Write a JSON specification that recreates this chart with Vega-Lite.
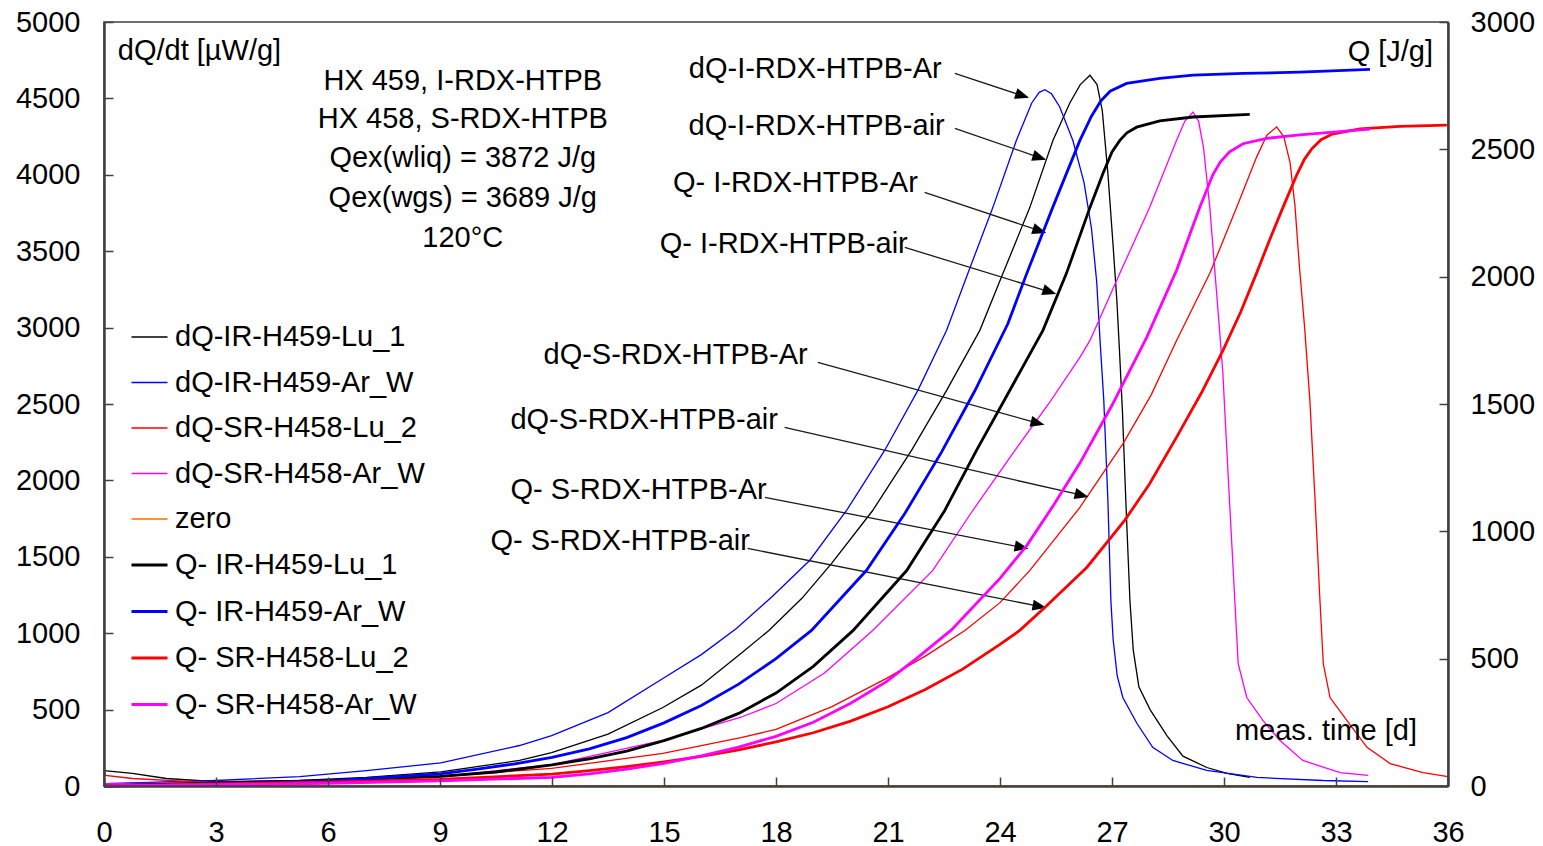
{
  "$schema": "https://vega.github.io/schema/vega-lite/v6.json",
  "width": 1344,
  "height": 764,
  "autosize": {"type": "none"},
  "padding": {"left": 104, "top": 22, "right": 95, "bottom": 60},
  "background": "#ffffff",
  "config": {
    "font": "Liberation Sans",
    "view": {"stroke": "#404040", "strokeWidth": 1.5},
    "axis": {"grid": false, "domainColor": "#404040", "domainWidth": 2.5, "tickColor": "#404040", "tickWidth": 1.5, "tickSize": -9, "labelFont": "Liberation Sans", "labelFontSize": 29, "labelColor": "#000000", "zindex": 1, "format": "d"}
  },
  "datasets": {
    "dq": [
      {"series": "zero", "t": 0, "v": 0}, {"series": "zero", "t": 36, "v": 0},
      {"series": "dQ-IR-H459-Lu_1", "t": 0, "v": 101}, {"series": "dQ-IR-H459-Lu_1", "t": 0.76, "v": 82}, {"series": "dQ-IR-H459-Lu_1", "t": 1.67, "v": 49}, {"series": "dQ-IR-H459-Lu_1", "t": 3.01, "v": 29}, {"series": "dQ-IR-H459-Lu_1", "t": 5.24, "v": 36}, {"series": "dQ-IR-H459-Lu_1", "t": 7.03, "v": 56}, {"series": "dQ-IR-H459-Lu_1", "t": 9.02, "v": 92}, {"series": "dQ-IR-H459-Lu_1", "t": 11.13, "v": 167}, {"series": "dQ-IR-H459-Lu_1", "t": 11.99, "v": 219}, {"series": "dQ-IR-H459-Lu_1", "t": 13.5, "v": 340}, {"series": "dQ-IR-H459-Lu_1", "t": 14.97, "v": 514}, {"series": "dQ-IR-H459-Lu_1", "t": 16.0, "v": 660}, {"series": "dQ-IR-H459-Lu_1", "t": 17.06, "v": 867}, {"series": "dQ-IR-H459-Lu_1", "t": 17.81, "v": 1018}, {"series": "dQ-IR-H459-Lu_1", "t": 18.7, "v": 1230}, {"series": "dQ-IR-H459-Lu_1", "t": 19.49, "v": 1457}, {"series": "dQ-IR-H459-Lu_1", "t": 20.59, "v": 1803}, {"series": "dQ-IR-H459-Lu_1", "t": 21.63, "v": 2196}, {"series": "dQ-IR-H459-Lu_1", "t": 22.57, "v": 2589}, {"series": "dQ-IR-H459-Lu_1", "t": 23.46, "v": 2982}, {"series": "dQ-IR-H459-Lu_1", "t": 24.08, "v": 3355}, {"series": "dQ-IR-H459-Lu_1", "t": 24.8, "v": 3787}, {"series": "dQ-IR-H459-Lu_1", "t": 25.42, "v": 4226}, {"series": "dQ-IR-H459-Lu_1", "t": 25.87, "v": 4470}, {"series": "dQ-IR-H459-Lu_1", "t": 26.15, "v": 4590}, {"series": "dQ-IR-H459-Lu_1", "t": 26.41, "v": 4651}, {"series": "dQ-IR-H459-Lu_1", "t": 26.6, "v": 4590}, {"series": "dQ-IR-H459-Lu_1", "t": 26.74, "v": 4420}, {"series": "dQ-IR-H459-Lu_1", "t": 26.89, "v": 4009}, {"series": "dQ-IR-H459-Lu_1", "t": 27.02, "v": 3570}, {"series": "dQ-IR-H459-Lu_1", "t": 27.13, "v": 3178}, {"series": "dQ-IR-H459-Lu_1", "t": 27.2, "v": 2850}, {"series": "dQ-IR-H459-Lu_1", "t": 27.28, "v": 2450}, {"series": "dQ-IR-H459-Lu_1", "t": 27.37, "v": 1869}, {"series": "dQ-IR-H459-Lu_1", "t": 27.48, "v": 1214}, {"series": "dQ-IR-H459-Lu_1", "t": 27.57, "v": 887}, {"series": "dQ-IR-H459-Lu_1", "t": 27.72, "v": 650}, {"series": "dQ-IR-H459-Lu_1", "t": 28.02, "v": 500}, {"series": "dQ-IR-H459-Lu_1", "t": 28.47, "v": 330}, {"series": "dQ-IR-H459-Lu_1", "t": 28.9, "v": 195}, {"series": "dQ-IR-H459-Lu_1", "t": 29.54, "v": 121}, {"series": "dQ-IR-H459-Lu_1", "t": 30.08, "v": 82}, {"series": "dQ-IR-H459-Lu_1", "t": 30.69, "v": 56},
      {"series": "dQ-IR-H459-Ar_W", "t": 0, "v": 16}, {"series": "dQ-IR-H459-Ar_W", "t": 3.01, "v": 36}, {"series": "dQ-IR-H459-Ar_W", "t": 5.24, "v": 62}, {"series": "dQ-IR-H459-Ar_W", "t": 7.03, "v": 101}, {"series": "dQ-IR-H459-Ar_W", "t": 9.02, "v": 151}, {"series": "dQ-IR-H459-Ar_W", "t": 11.13, "v": 265}, {"series": "dQ-IR-H459-Ar_W", "t": 11.99, "v": 330}, {"series": "dQ-IR-H459-Ar_W", "t": 13.5, "v": 480}, {"series": "dQ-IR-H459-Ar_W", "t": 14.97, "v": 704}, {"series": "dQ-IR-H459-Ar_W", "t": 16.0, "v": 860}, {"series": "dQ-IR-H459-Ar_W", "t": 16.94, "v": 1031}, {"series": "dQ-IR-H459-Ar_W", "t": 17.9, "v": 1240}, {"series": "dQ-IR-H459-Ar_W", "t": 18.9, "v": 1476}, {"series": "dQ-IR-H459-Ar_W", "t": 19.89, "v": 1803}, {"series": "dQ-IR-H459-Ar_W", "t": 20.91, "v": 2196}, {"series": "dQ-IR-H459-Ar_W", "t": 21.8, "v": 2589}, {"series": "dQ-IR-H459-Ar_W", "t": 22.57, "v": 2982}, {"series": "dQ-IR-H459-Ar_W", "t": 23.1, "v": 3330}, {"series": "dQ-IR-H459-Ar_W", "t": 23.81, "v": 3787}, {"series": "dQ-IR-H459-Ar_W", "t": 24.44, "v": 4226}, {"series": "dQ-IR-H459-Ar_W", "t": 24.85, "v": 4470}, {"series": "dQ-IR-H459-Ar_W", "t": 25.05, "v": 4540}, {"series": "dQ-IR-H459-Ar_W", "t": 25.2, "v": 4557}, {"series": "dQ-IR-H459-Ar_W", "t": 25.38, "v": 4530}, {"series": "dQ-IR-H459-Ar_W", "t": 25.6, "v": 4444}, {"series": "dQ-IR-H459-Ar_W", "t": 25.95, "v": 4226}, {"series": "dQ-IR-H459-Ar_W", "t": 26.25, "v": 3950}, {"series": "dQ-IR-H459-Ar_W", "t": 26.45, "v": 3650}, {"series": "dQ-IR-H459-Ar_W", "t": 26.59, "v": 3300}, {"series": "dQ-IR-H459-Ar_W", "t": 26.68, "v": 2916}, {"series": "dQ-IR-H459-Ar_W", "t": 26.78, "v": 2524}, {"series": "dQ-IR-H459-Ar_W", "t": 26.89, "v": 1869}, {"series": "dQ-IR-H459-Ar_W", "t": 26.97, "v": 1214}, {"series": "dQ-IR-H459-Ar_W", "t": 27.03, "v": 960}, {"series": "dQ-IR-H459-Ar_W", "t": 27.14, "v": 720}, {"series": "dQ-IR-H459-Ar_W", "t": 27.29, "v": 579}, {"series": "dQ-IR-H459-Ar_W", "t": 27.67, "v": 409}, {"series": "dQ-IR-H459-Ar_W", "t": 28.09, "v": 253}, {"series": "dQ-IR-H459-Ar_W", "t": 28.63, "v": 167}, {"series": "dQ-IR-H459-Ar_W", "t": 29.54, "v": 102}, {"series": "dQ-IR-H459-Ar_W", "t": 30.88, "v": 56}, {"series": "dQ-IR-H459-Ar_W", "t": 32.65, "v": 36}, {"series": "dQ-IR-H459-Ar_W", "t": 33.86, "v": 29},
      {"series": "dQ-SR-H458-Lu_2", "t": 0, "v": 121}, {"series": "dQ-SR-H458-Lu_2", "t": 0.04, "v": 69}, {"series": "dQ-SR-H458-Lu_2", "t": 0.76, "v": 49}, {"series": "dQ-SR-H458-Lu_2", "t": 2.56, "v": 25}, {"series": "dQ-SR-H458-Lu_2", "t": 6.12, "v": 36}, {"series": "dQ-SR-H458-Lu_2", "t": 9.02, "v": 62}, {"series": "dQ-SR-H458-Lu_2", "t": 11.13, "v": 101}, {"series": "dQ-SR-H458-Lu_2", "t": 11.99, "v": 115}, {"series": "dQ-SR-H458-Lu_2", "t": 14.97, "v": 213}, {"series": "dQ-SR-H458-Lu_2", "t": 17.06, "v": 317}, {"series": "dQ-SR-H458-Lu_2", "t": 18.0, "v": 370}, {"series": "dQ-SR-H458-Lu_2", "t": 19.5, "v": 520}, {"series": "dQ-SR-H458-Lu_2", "t": 20.96, "v": 704}, {"series": "dQ-SR-H458-Lu_2", "t": 22.0, "v": 850}, {"series": "dQ-SR-H458-Lu_2", "t": 23.06, "v": 1018}, {"series": "dQ-SR-H458-Lu_2", "t": 24.0, "v": 1200}, {"series": "dQ-SR-H458-Lu_2", "t": 24.8, "v": 1411}, {"series": "dQ-SR-H458-Lu_2", "t": 26.14, "v": 1823}, {"series": "dQ-SR-H458-Lu_2", "t": 27.3, "v": 2242}, {"series": "dQ-SR-H458-Lu_2", "t": 28.05, "v": 2560}, {"series": "dQ-SR-H458-Lu_2", "t": 28.73, "v": 2916}, {"series": "dQ-SR-H458-Lu_2", "t": 29.62, "v": 3355}, {"series": "dQ-SR-H458-Lu_2", "t": 30.34, "v": 3787}, {"series": "dQ-SR-H458-Lu_2", "t": 30.87, "v": 4114}, {"series": "dQ-SR-H458-Lu_2", "t": 31.15, "v": 4260}, {"series": "dQ-SR-H458-Lu_2", "t": 31.41, "v": 4313}, {"series": "dQ-SR-H458-Lu_2", "t": 31.6, "v": 4250}, {"series": "dQ-SR-H458-Lu_2", "t": 31.77, "v": 4080}, {"series": "dQ-SR-H458-Lu_2", "t": 31.9, "v": 3800}, {"series": "dQ-SR-H458-Lu_2", "t": 32.02, "v": 3400}, {"series": "dQ-SR-H458-Lu_2", "t": 32.16, "v": 3000}, {"series": "dQ-SR-H458-Lu_2", "t": 32.3, "v": 2524}, {"series": "dQ-SR-H458-Lu_2", "t": 32.44, "v": 1869}, {"series": "dQ-SR-H458-Lu_2", "t": 32.57, "v": 1214}, {"series": "dQ-SR-H458-Lu_2", "t": 32.66, "v": 800}, {"series": "dQ-SR-H458-Lu_2", "t": 32.84, "v": 579}, {"series": "dQ-SR-H458-Lu_2", "t": 33.29, "v": 429}, {"series": "dQ-SR-H458-Lu_2", "t": 33.83, "v": 253}, {"series": "dQ-SR-H458-Lu_2", "t": 34.45, "v": 147}, {"series": "dQ-SR-H458-Lu_2", "t": 35.33, "v": 88}, {"series": "dQ-SR-H458-Lu_2", "t": 36.0, "v": 62},
      {"series": "dQ-SR-H458-Ar_W", "t": 0, "v": 16}, {"series": "dQ-SR-H458-Ar_W", "t": 3.01, "v": 20}, {"series": "dQ-SR-H458-Ar_W", "t": 6.04, "v": 33}, {"series": "dQ-SR-H458-Ar_W", "t": 9.02, "v": 60}, {"series": "dQ-SR-H458-Ar_W", "t": 12.0, "v": 140}, {"series": "dQ-SR-H458-Ar_W", "t": 15.0, "v": 300}, {"series": "dQ-SR-H458-Ar_W", "t": 17.06, "v": 450}, {"series": "dQ-SR-H458-Ar_W", "t": 18.0, "v": 540}, {"series": "dQ-SR-H458-Ar_W", "t": 19.3, "v": 740}, {"series": "dQ-SR-H458-Ar_W", "t": 20.59, "v": 1018}, {"series": "dQ-SR-H458-Ar_W", "t": 22.2, "v": 1411}, {"series": "dQ-SR-H458-Ar_W", "t": 23.27, "v": 1803}, {"series": "dQ-SR-H458-Ar_W", "t": 24.4, "v": 2196}, {"series": "dQ-SR-H458-Ar_W", "t": 25.3, "v": 2500}, {"series": "dQ-SR-H458-Ar_W", "t": 26.14, "v": 2805}, {"series": "dQ-SR-H458-Ar_W", "t": 26.41, "v": 2916}, {"series": "dQ-SR-H458-Ar_W", "t": 27.21, "v": 3355}, {"series": "dQ-SR-H458-Ar_W", "t": 28.01, "v": 3787}, {"series": "dQ-SR-H458-Ar_W", "t": 28.73, "v": 4226}, {"series": "dQ-SR-H458-Ar_W", "t": 28.95, "v": 4350}, {"series": "dQ-SR-H458-Ar_W", "t": 29.17, "v": 4411}, {"series": "dQ-SR-H458-Ar_W", "t": 29.32, "v": 4350}, {"series": "dQ-SR-H458-Ar_W", "t": 29.45, "v": 4180}, {"series": "dQ-SR-H458-Ar_W", "t": 29.62, "v": 3787}, {"series": "dQ-SR-H458-Ar_W", "t": 29.76, "v": 3355}, {"series": "dQ-SR-H458-Ar_W", "t": 29.86, "v": 3050}, {"series": "dQ-SR-H458-Ar_W", "t": 29.97, "v": 2700}, {"series": "dQ-SR-H458-Ar_W", "t": 30.1, "v": 2085}, {"series": "dQ-SR-H458-Ar_W", "t": 30.29, "v": 1214}, {"series": "dQ-SR-H458-Ar_W", "t": 30.38, "v": 800}, {"series": "dQ-SR-H458-Ar_W", "t": 30.61, "v": 579}, {"series": "dQ-SR-H458-Ar_W", "t": 31.04, "v": 429}, {"series": "dQ-SR-H458-Ar_W", "t": 31.5, "v": 298}, {"series": "dQ-SR-H458-Ar_W", "t": 32.11, "v": 167}, {"series": "dQ-SR-H458-Ar_W", "t": 33.11, "v": 88}, {"series": "dQ-SR-H458-Ar_W", "t": 33.86, "v": 69}
    ],
    "q": [
      {"series": "Q- IR-H459-Lu_1", "t": 0, "v": 0}, {"series": "Q- IR-H459-Lu_1", "t": 3, "v": 12}, {"series": "Q- IR-H459-Lu_1", "t": 6, "v": 21}, {"series": "Q- IR-H459-Lu_1", "t": 9, "v": 38}, {"series": "Q- IR-H459-Lu_1", "t": 10.5, "v": 55}, {"series": "Q- IR-H459-Lu_1", "t": 12, "v": 83}, {"series": "Q- IR-H459-Lu_1", "t": 13, "v": 107}, {"series": "Q- IR-H459-Lu_1", "t": 14, "v": 137}, {"series": "Q- IR-H459-Lu_1", "t": 15, "v": 178}, {"series": "Q- IR-H459-Lu_1", "t": 16, "v": 226}, {"series": "Q- IR-H459-Lu_1", "t": 17, "v": 285}, {"series": "Q- IR-H459-Lu_1", "t": 18, "v": 365}, {"series": "Q- IR-H459-Lu_1", "t": 19, "v": 470}, {"series": "Q- IR-H459-Lu_1", "t": 20.06, "v": 610}, {"series": "Q- IR-H459-Lu_1", "t": 21.5, "v": 846}, {"series": "Q- IR-H459-Lu_1", "t": 22.52, "v": 1082}, {"series": "Q- IR-H459-Lu_1", "t": 23.37, "v": 1318}, {"series": "Q- IR-H459-Lu_1", "t": 24.26, "v": 1553}, {"series": "Q- IR-H459-Lu_1", "t": 25.15, "v": 1789}, {"series": "Q- IR-H459-Lu_1", "t": 25.78, "v": 2013}, {"series": "Q- IR-H459-Lu_1", "t": 26.41, "v": 2272}, {"series": "Q- IR-H459-Lu_1", "t": 26.76, "v": 2406}, {"series": "Q- IR-H459-Lu_1", "t": 27.0, "v": 2490}, {"series": "Q- IR-H459-Lu_1", "t": 27.21, "v": 2535}, {"series": "Q- IR-H459-Lu_1", "t": 27.4, "v": 2565}, {"series": "Q- IR-H459-Lu_1", "t": 27.66, "v": 2587}, {"series": "Q- IR-H459-Lu_1", "t": 28.28, "v": 2612}, {"series": "Q- IR-H459-Lu_1", "t": 29.17, "v": 2627}, {"series": "Q- IR-H459-Lu_1", "t": 30.69, "v": 2637},
      {"series": "Q- IR-H459-Ar_W", "t": 0, "v": 0}, {"series": "Q- IR-H459-Ar_W", "t": 3, "v": 7}, {"series": "Q- IR-H459-Ar_W", "t": 6, "v": 20}, {"series": "Q- IR-H459-Ar_W", "t": 9, "v": 48}, {"series": "Q- IR-H459-Ar_W", "t": 10, "v": 66}, {"series": "Q- IR-H459-Ar_W", "t": 11, "v": 87}, {"series": "Q- IR-H459-Ar_W", "t": 12, "v": 112}, {"series": "Q- IR-H459-Ar_W", "t": 13, "v": 146}, {"series": "Q- IR-H459-Ar_W", "t": 14, "v": 190}, {"series": "Q- IR-H459-Ar_W", "t": 15, "v": 248}, {"series": "Q- IR-H459-Ar_W", "t": 16, "v": 316}, {"series": "Q- IR-H459-Ar_W", "t": 17, "v": 400}, {"series": "Q- IR-H459-Ar_W", "t": 18, "v": 500}, {"series": "Q- IR-H459-Ar_W", "t": 18.95, "v": 611}, {"series": "Q- IR-H459-Ar_W", "t": 20.42, "v": 846}, {"series": "Q- IR-H459-Ar_W", "t": 21.45, "v": 1070}, {"series": "Q- IR-H459-Ar_W", "t": 22.43, "v": 1310}, {"series": "Q- IR-H459-Ar_W", "t": 23.33, "v": 1553}, {"series": "Q- IR-H459-Ar_W", "t": 24.21, "v": 1815}, {"series": "Q- IR-H459-Ar_W", "t": 24.71, "v": 2010}, {"series": "Q- IR-H459-Ar_W", "t": 25.42, "v": 2275}, {"series": "Q- IR-H459-Ar_W", "t": 26.14, "v": 2535}, {"series": "Q- IR-H459-Ar_W", "t": 26.45, "v": 2630}, {"series": "Q- IR-H459-Ar_W", "t": 26.7, "v": 2690}, {"series": "Q- IR-H459-Ar_W", "t": 26.95, "v": 2728}, {"series": "Q- IR-H459-Ar_W", "t": 27.39, "v": 2759}, {"series": "Q- IR-H459-Ar_W", "t": 28.28, "v": 2779}, {"series": "Q- IR-H459-Ar_W", "t": 29.17, "v": 2791}, {"series": "Q- IR-H459-Ar_W", "t": 30.51, "v": 2798}, {"series": "Q- IR-H459-Ar_W", "t": 32.03, "v": 2803}, {"series": "Q- IR-H459-Ar_W", "t": 33.91, "v": 2814},
      {"series": "Q- SR-H458-Lu_2", "t": 0, "v": 0}, {"series": "Q- SR-H458-Lu_2", "t": 3, "v": 8}, {"series": "Q- SR-H458-Lu_2", "t": 6, "v": 15}, {"series": "Q- SR-H458-Lu_2", "t": 9, "v": 26}, {"series": "Q- SR-H458-Lu_2", "t": 12, "v": 47}, {"series": "Q- SR-H458-Lu_2", "t": 13, "v": 60}, {"series": "Q- SR-H458-Lu_2", "t": 14, "v": 76}, {"series": "Q- SR-H458-Lu_2", "t": 15, "v": 95}, {"series": "Q- SR-H458-Lu_2", "t": 16, "v": 116}, {"series": "Q- SR-H458-Lu_2", "t": 17, "v": 142}, {"series": "Q- SR-H458-Lu_2", "t": 18, "v": 173}, {"series": "Q- SR-H458-Lu_2", "t": 19, "v": 209}, {"series": "Q- SR-H458-Lu_2", "t": 20, "v": 255}, {"series": "Q- SR-H458-Lu_2", "t": 21, "v": 311}, {"series": "Q- SR-H458-Lu_2", "t": 22, "v": 379}, {"series": "Q- SR-H458-Lu_2", "t": 23, "v": 459}, {"series": "Q- SR-H458-Lu_2", "t": 24, "v": 556}, {"series": "Q- SR-H458-Lu_2", "t": 24.53, "v": 611}, {"series": "Q- SR-H458-Lu_2", "t": 25.2, "v": 701}, {"series": "Q- SR-H458-Lu_2", "t": 26.33, "v": 859}, {"series": "Q- SR-H458-Lu_2", "t": 27.34, "v": 1043}, {"series": "Q- SR-H458-Lu_2", "t": 28.0, "v": 1185}, {"series": "Q- SR-H458-Lu_2", "t": 28.75, "v": 1375}, {"series": "Q- SR-H458-Lu_2", "t": 29.4, "v": 1545}, {"series": "Q- SR-H458-Lu_2", "t": 29.97, "v": 1710}, {"series": "Q- SR-H458-Lu_2", "t": 30.45, "v": 1862}, {"series": "Q- SR-H458-Lu_2", "t": 30.87, "v": 2013}, {"series": "Q- SR-H458-Lu_2", "t": 31.25, "v": 2155}, {"series": "Q- SR-H458-Lu_2", "t": 31.58, "v": 2272}, {"series": "Q- SR-H458-Lu_2", "t": 31.95, "v": 2400}, {"series": "Q- SR-H458-Lu_2", "t": 32.15, "v": 2460}, {"series": "Q- SR-H458-Lu_2", "t": 32.35, "v": 2502}, {"series": "Q- SR-H458-Lu_2", "t": 32.6, "v": 2538}, {"series": "Q- SR-H458-Lu_2", "t": 32.9, "v": 2560}, {"series": "Q- SR-H458-Lu_2", "t": 33.64, "v": 2580}, {"series": "Q- SR-H458-Lu_2", "t": 34.71, "v": 2590}, {"series": "Q- SR-H458-Lu_2", "t": 35.97, "v": 2595},
      {"series": "Q- SR-H458-Ar_W", "t": 0, "v": 0}, {"series": "Q- SR-H458-Ar_W", "t": 3, "v": 5}, {"series": "Q- SR-H458-Ar_W", "t": 6, "v": 10}, {"series": "Q- SR-H458-Ar_W", "t": 9, "v": 20}, {"series": "Q- SR-H458-Ar_W", "t": 12, "v": 34}, {"series": "Q- SR-H458-Ar_W", "t": 13, "v": 48}, {"series": "Q- SR-H458-Ar_W", "t": 14, "v": 66}, {"series": "Q- SR-H458-Ar_W", "t": 15, "v": 89}, {"series": "Q- SR-H458-Ar_W", "t": 16, "v": 118}, {"series": "Q- SR-H458-Ar_W", "t": 17, "v": 153}, {"series": "Q- SR-H458-Ar_W", "t": 18, "v": 195}, {"series": "Q- SR-H458-Ar_W", "t": 19, "v": 250}, {"series": "Q- SR-H458-Ar_W", "t": 20, "v": 325}, {"series": "Q- SR-H458-Ar_W", "t": 20.96, "v": 410}, {"series": "Q- SR-H458-Ar_W", "t": 21.8, "v": 505}, {"series": "Q- SR-H458-Ar_W", "t": 22.7, "v": 613}, {"series": "Q- SR-H458-Ar_W", "t": 24.0, "v": 815}, {"series": "Q- SR-H458-Ar_W", "t": 24.72, "v": 945}, {"series": "Q- SR-H458-Ar_W", "t": 25.4, "v": 1095}, {"series": "Q- SR-H458-Ar_W", "t": 26.14, "v": 1268}, {"series": "Q- SR-H458-Ar_W", "t": 27.0, "v": 1495}, {"series": "Q- SR-H458-Ar_W", "t": 27.93, "v": 1762}, {"series": "Q- SR-H458-Ar_W", "t": 28.73, "v": 2025}, {"series": "Q- SR-H458-Ar_W", "t": 29.35, "v": 2272}, {"series": "Q- SR-H458-Ar_W", "t": 29.7, "v": 2400}, {"series": "Q- SR-H458-Ar_W", "t": 29.9, "v": 2450}, {"series": "Q- SR-H458-Ar_W", "t": 30.15, "v": 2490}, {"series": "Q- SR-H458-Ar_W", "t": 30.51, "v": 2522}, {"series": "Q- SR-H458-Ar_W", "t": 31.14, "v": 2543}, {"series": "Q- SR-H458-Ar_W", "t": 32.03, "v": 2557}, {"series": "Q- SR-H458-Ar_W", "t": 33.91, "v": 2579}
    ],
    "labelsLeft": [
      {"label": "dQ/dt [µW/g]", "t": 0.37, "v": 4808}
    ],
    "labelsCenter": [
      {"label": "HX 459, I-RDX-HTPB", "t": 9.61, "v": 4612},
      {"label": "HX 458, S-RDX-HTPB", "t": 9.61, "v": 4363},
      {"label": "Qex(wliq) = 3872 J/g", "t": 9.61, "v": 4108},
      {"label": "Qex(wgs) = 3689 J/g", "t": 9.61, "v": 3846},
      {"label": "120°C", "t": 9.61, "v": 3587}
    ],
    "labelsRight": [
      {"label": "Q [J/g]", "t": 35.6, "v": 4802},
      {"label": "meas. time [d]", "t": 35.17, "v": 357},
      {"label": "dQ-I-RDX-HTPB-Ar", "t": 22.44, "v": 4690},
      {"label": "dQ-I-RDX-HTPB-air", "t": 22.52, "v": 4318},
      {"label": "Q- I-RDX-HTPB-Ar", "t": 21.8, "v": 3945},
      {"label": "Q- I-RDX-HTPB-air", "t": 21.53, "v": 3545},
      {"label": "dQ-S-RDX-HTPB-Ar", "t": 18.85, "v": 2818},
      {"label": "dQ-S-RDX-HTPB-air", "t": 18.05, "v": 2393},
      {"label": "Q- S-RDX-HTPB-Ar", "t": 17.75, "v": 1934},
      {"label": "Q- S-RDX-HTPB-air", "t": 17.3, "v": 1601}
    ],
    "arrows": [
      {"label": "dQ-I-RDX-HTPB-Ar", "t": 22.79, "v": 4664, "t2": 24.6, "v2": 4518},
      {"label": "dQ-I-RDX-HTPB-air", "t": 22.79, "v": 4304, "t2": 25.06, "v2": 4113},
      {"label": "Q- I-RDX-HTPB-Ar", "t": 21.98, "v": 3885, "t2": 25.06, "v2": 3634},
      {"label": "Q- I-RDX-HTPB-air", "t": 21.45, "v": 3525, "t2": 25.33, "v2": 3234},
      {"label": "dQ-S-RDX-HTPB-Ar", "t": 19.12, "v": 2772, "t2": 25.01, "v2": 2375},
      {"label": "dQ-S-RDX-HTPB-air", "t": 18.23, "v": 2347, "t2": 26.19, "v2": 1903},
      {"label": "Q- S-RDX-HTPB-Ar", "t": 17.7, "v": 1889, "t2": 24.58, "v2": 1562},
      {"label": "Q- S-RDX-HTPB-air", "t": 17.24, "v": 1555, "t2": 25.06, "v2": 1175}
    ],
    "headsA": [
      {"t": 24.6, "v": 4518}, {"t": 25.06, "v": 4113}, {"t": 25.06, "v": 3634}, {"t": 25.33, "v": 3234}
    ],
    "headsB": [
      {"t": 25.01, "v": 2375}, {"t": 26.19, "v": 1903}
    ],
    "headsC": [
      {"t": 24.58, "v": 1562}, {"t": 25.06, "v": 1175}
    ]
  },
  "layer": [
    {
      "layer": [
        {
          "data": {"name": "dq"},
          "mark": {"type": "line", "interpolate": "linear"},
          "encoding": {
            "x": {"field": "t", "type": "quantitative", "title": null, "scale": {"domain": [0, 36], "nice": false, "zero": false}, "axis": {"orient": "bottom", "values": [0, 3, 6, 9, 12, 15, 18, 21, 24, 27, 30, 33, 36], "labelPadding": 41, "labelFlush": false, "zindex": 2}},
            "y": {"field": "v", "type": "quantitative", "title": null, "scale": {"domain": [0, 5000], "nice": false, "zero": false}, "axis": {"orient": "left", "values": [0, 500, 1000, 1500, 2000, 2500, 3000, 3500, 4000, 4500, 5000], "labelPadding": 33, "labelFlush": false, "zindex": 2}},
            "color": {"field": "series", "type": "nominal", "scale": {"domain": ["dQ-IR-H459-Lu_1", "dQ-IR-H459-Ar_W", "dQ-SR-H458-Lu_2", "dQ-SR-H458-Ar_W", "zero", "Q- IR-H459-Lu_1", "Q- IR-H459-Ar_W", "Q- SR-H458-Lu_2", "Q- SR-H458-Ar_W"], "range": ["#000000", "#0000ff", "#ff0000", "#ff00ff", "#ff6a00", "#000000", "#0000ff", "#ff0000", "#ff00ff"]}, "legend": {"title": null, "orient": "none", "legendX": 26, "legendY": 296, "padding": 0, "symbolType": "stroke", "symbolSize": 1296, "labelFont": "Liberation Sans", "labelFontSize": 29, "labelColor": "#000000", "labelOffset": 6, "labelLimit": 600, "rowPadding": 11.5}},
            "strokeWidth": {"field": "series", "type": "nominal", "scale": {"type": "ordinal", "domain": ["dQ-IR-H459-Lu_1", "dQ-IR-H459-Ar_W", "dQ-SR-H458-Lu_2", "dQ-SR-H458-Ar_W", "zero", "Q- IR-H459-Lu_1", "Q- IR-H459-Ar_W", "Q- SR-H458-Lu_2", "Q- SR-H458-Ar_W"], "range": [1.3, 1.3, 1.3, 1.3, 1.3, 2.8, 2.8, 2.8, 2.8]}, "legend": {"title": null, "orient": "none", "legendX": 26, "legendY": 296, "padding": 0, "symbolType": "stroke", "symbolSize": 1296, "labelFont": "Liberation Sans", "labelFontSize": 29, "labelColor": "#000000", "labelOffset": 6, "labelLimit": 600, "rowPadding": 11.5}}
          }
        },
        {
          "data": {"name": "arrows"},
          "mark": {"type": "rule", "color": "#1a1a1a", "strokeWidth": 1.3},
          "encoding": {
            "x": {"field": "t", "type": "quantitative", "title": null, "scale": {"domain": [0, 36], "nice": false, "zero": false}},
            "y": {"field": "v", "type": "quantitative", "title": null, "scale": {"domain": [0, 5000], "nice": false, "zero": false}},
            "x2": {"field": "t2"},
            "y2": {"field": "v2"}
          }
        },
        {
          "data": {"name": "headsA"},
          "mark": {"type": "point", "shape": "M-1,-0.8L1,0L-1,0.8Z", "size": 196, "filled": true, "color": "#000000", "opacity": 1, "angle": 18},
          "encoding": {
            "x": {"field": "t", "type": "quantitative", "title": null, "scale": {"domain": [0, 36], "nice": false, "zero": false}},
            "y": {"field": "v", "type": "quantitative", "title": null, "scale": {"domain": [0, 5000], "nice": false, "zero": false}}
          }
        },
        {
          "data": {"name": "headsB"},
          "mark": {"type": "point", "shape": "M-1,-0.8L1,0L-1,0.8Z", "size": 196, "filled": true, "color": "#000000", "opacity": 1, "angle": 14},
          "encoding": {
            "x": {"field": "t", "type": "quantitative", "title": null, "scale": {"domain": [0, 36], "nice": false, "zero": false}},
            "y": {"field": "v", "type": "quantitative", "title": null, "scale": {"domain": [0, 5000], "nice": false, "zero": false}}
          }
        },
        {
          "data": {"name": "headsC"},
          "mark": {"type": "point", "shape": "M-1,-0.8L1,0L-1,0.8Z", "size": 196, "filled": true, "color": "#000000", "opacity": 1, "angle": 11},
          "encoding": {
            "x": {"field": "t", "type": "quantitative", "title": null, "scale": {"domain": [0, 36], "nice": false, "zero": false}},
            "y": {"field": "v", "type": "quantitative", "title": null, "scale": {"domain": [0, 5000], "nice": false, "zero": false}}
          }
        },
        {
          "data": {"name": "labelsLeft"},
          "mark": {"type": "text", "align": "left", "baseline": "middle", "font": "Liberation Sans", "fontSize": 29, "fill": "#000000"},
          "encoding": {
            "x": {"field": "t", "type": "quantitative", "title": null, "scale": {"domain": [0, 36], "nice": false, "zero": false}},
            "y": {"field": "v", "type": "quantitative", "title": null, "scale": {"domain": [0, 5000], "nice": false, "zero": false}},
            "text": {"field": "label"}
          }
        },
        {
          "data": {"name": "labelsCenter"},
          "mark": {"type": "text", "align": "center", "baseline": "middle", "font": "Liberation Sans", "fontSize": 29, "fill": "#000000"},
          "encoding": {
            "x": {"field": "t", "type": "quantitative", "title": null, "scale": {"domain": [0, 36], "nice": false, "zero": false}},
            "y": {"field": "v", "type": "quantitative", "title": null, "scale": {"domain": [0, 5000], "nice": false, "zero": false}},
            "text": {"field": "label"}
          }
        },
        {
          "data": {"name": "labelsRight"},
          "mark": {"type": "text", "align": "right", "baseline": "middle", "font": "Liberation Sans", "fontSize": 29, "fill": "#000000"},
          "encoding": {
            "x": {"field": "t", "type": "quantitative", "title": null, "scale": {"domain": [0, 36], "nice": false, "zero": false}},
            "y": {"field": "v", "type": "quantitative", "title": null, "scale": {"domain": [0, 5000], "nice": false, "zero": false}},
            "text": {"field": "label"}
          }
        }
      ]
    },
    {
      "layer": [
        {
          "data": {"name": "q"},
          "mark": {"type": "line", "interpolate": "linear"},
          "encoding": {
            "x": {"field": "t", "type": "quantitative", "title": null, "scale": {"domain": [0, 36], "nice": false, "zero": false}},
            "y": {"field": "v", "type": "quantitative", "title": null, "scale": {"domain": [0, 3000], "nice": false, "zero": false}, "axis": {"orient": "right", "values": [0, 500, 1000, 1500, 2000, 2500, 3000], "labelPadding": 31, "labelFlush": false, "zindex": 2}},
            "color": {"field": "series", "type": "nominal", "scale": {"domain": ["dQ-IR-H459-Lu_1", "dQ-IR-H459-Ar_W", "dQ-SR-H458-Lu_2", "dQ-SR-H458-Ar_W", "zero", "Q- IR-H459-Lu_1", "Q- IR-H459-Ar_W", "Q- SR-H458-Lu_2", "Q- SR-H458-Ar_W"], "range": ["#000000", "#0000ff", "#ff0000", "#ff00ff", "#ff6a00", "#000000", "#0000ff", "#ff0000", "#ff00ff"]}, "legend": {"title": null, "orient": "none", "legendX": 26, "legendY": 296, "padding": 0, "symbolType": "stroke", "symbolSize": 1296, "labelFont": "Liberation Sans", "labelFontSize": 29, "labelColor": "#000000", "labelOffset": 6, "labelLimit": 600, "rowPadding": 11.5}},
            "strokeWidth": {"field": "series", "type": "nominal", "scale": {"type": "ordinal", "domain": ["dQ-IR-H459-Lu_1", "dQ-IR-H459-Ar_W", "dQ-SR-H458-Lu_2", "dQ-SR-H458-Ar_W", "zero", "Q- IR-H459-Lu_1", "Q- IR-H459-Ar_W", "Q- SR-H458-Lu_2", "Q- SR-H458-Ar_W"], "range": [1.3, 1.3, 1.3, 1.3, 1.3, 2.8, 2.8, 2.8, 2.8]}, "legend": {"title": null, "orient": "none", "legendX": 26, "legendY": 296, "padding": 0, "symbolType": "stroke", "symbolSize": 1296, "labelFont": "Liberation Sans", "labelFontSize": 29, "labelColor": "#000000", "labelOffset": 6, "labelLimit": 600, "rowPadding": 11.5}}
          }
        }
      ]
    }
  ],
  "resolve": {"scale": {"y": "independent"}}
}
